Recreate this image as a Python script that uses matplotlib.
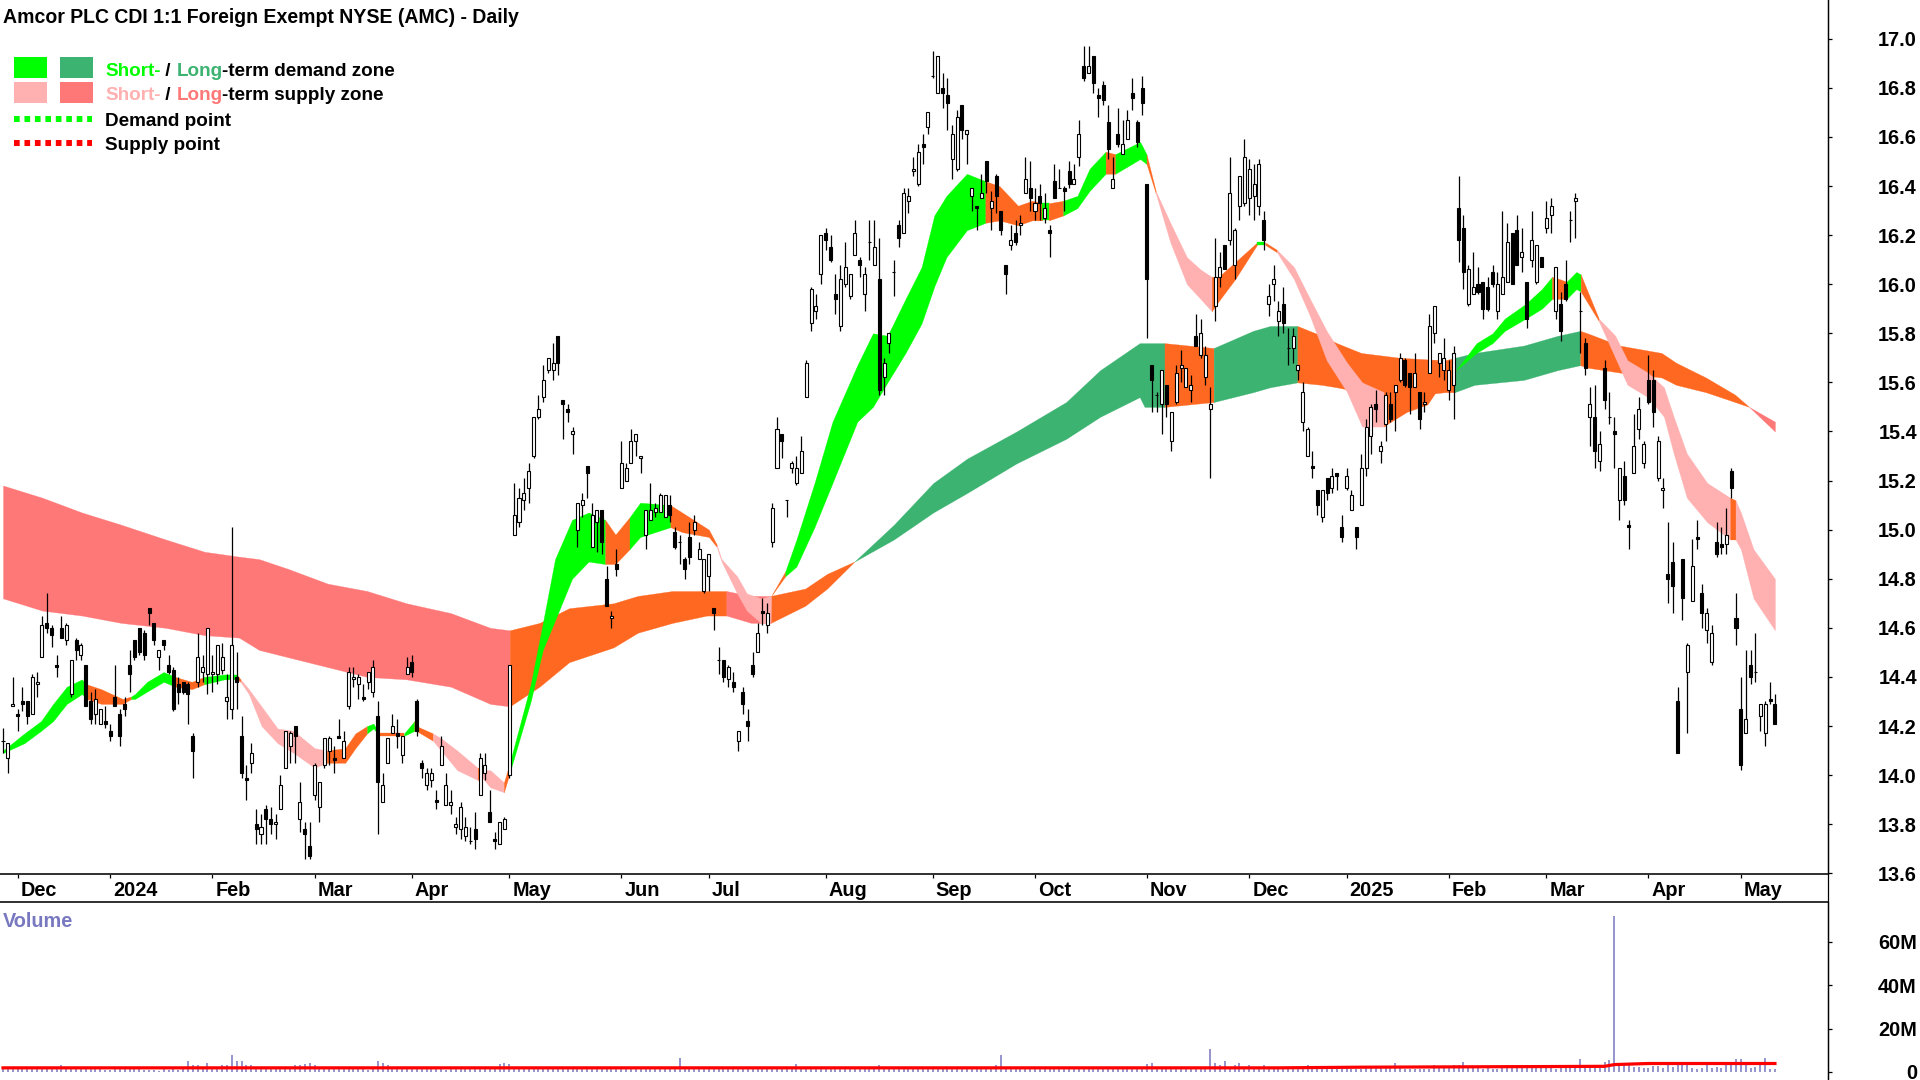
import matplotlib
matplotlib.use('Agg')
import matplotlib.pyplot as plt
from matplotlib.patches import Rectangle
from matplotlib.transforms import ScaledTranslation

plt.rcParams['font.family'] = ['Liberation Sans', 'DejaVu Sans']
plt.rcParams['font.weight'] = 'bold'

# Daily candles, Dec 2023 to May 2025
highs = [
    14.19,14.13,14.40,14.27,14.36,14.30,14.41,14.42,14.65,14.74,
    14.61,14.49,14.65,14.62,14.47,14.56,14.54,14.45,14.34,14.35,
    14.27,14.28,14.21,14.45,14.27,14.32,14.51,14.55,14.60,14.59,
    14.68,14.62,14.51,14.55,14.49,14.44,14.40,14.38,14.38,14.17,
    14.58,14.49,14.60,14.49,14.53,14.54,14.41,15.01,14.50,14.24,
    14.04,14.13,13.86,13.84,13.88,13.87,13.84,14.00,14.18,14.18,
    14.20,13.97,13.81,13.81,14.05,13.97,14.15,14.16,14.12,14.23,
    14.18,14.44,14.44,14.41,14.37,14.42,14.47,14.30,14.01,14.15,
    14.25,14.23,14.16,14.48,14.49,14.31,14.06,14.03,14.03,13.94,
    14.16,14.01,13.94,13.83,13.89,13.83,13.79,13.85,14.09,14.09,
    13.94,13.77,13.81,13.83,14.45,15.19,15.17,15.21,15.27,15.46,
    15.55,15.67,15.70,15.76,15.79,15.53,15.51,15.42,15.11,15.15,
    15.26,15.11,15.08,15.08,14.85,14.67,14.92,15.36,15.27,15.41,
    15.39,15.30,15.08,15.19,15.11,15.15,15.14,15.14,15.01,14.98,
    14.89,15.03,15.06,14.95,14.88,14.90,14.68,14.52,14.47,14.45,
    14.42,14.18,14.36,14.27,14.50,14.62,14.72,14.70,15.11,15.46,
    15.39,15.12,15.28,15.30,15.38,15.69,15.99,15.96,16.20,16.23,
    16.20,16.04,16.08,16.17,16.04,16.26,16.11,16.07,16.26,16.26,
    16.19,15.70,15.80,16.10,16.26,16.39,16.39,16.52,16.57,16.61,
    16.70,16.95,16.93,16.86,16.84,16.65,16.71,16.73,16.63,16.39,
    16.32,16.45,16.50,16.38,16.45,16.30,16.08,16.24,16.26,16.28,
    16.52,16.50,16.39,16.41,16.37,16.24,16.49,16.47,16.40,16.50,
    16.49,16.67,16.97,16.97,16.93,16.80,16.83,16.73,16.52,16.72,
    16.67,16.71,16.84,16.67,16.85,16.41,15.67,15.56,15.65,15.59,
    15.48,15.67,15.73,15.66,15.63,15.88,15.86,15.75,15.58,16.19,
    16.13,16.16,16.52,16.23,16.44,16.59,16.51,16.49,16.51,16.30,
    16.00,16.08,15.93,15.99,15.82,15.82,15.67,15.60,15.42,15.32,
    15.16,15.16,15.21,15.25,15.23,15.06,15.25,15.16,15.01,15.31,
    15.45,15.51,15.57,15.36,15.56,15.56,15.59,15.72,15.70,15.64,
    15.72,15.56,15.56,15.88,15.91,15.72,15.78,15.69,15.75,16.44,
    16.28,16.08,16.13,16.07,16.01,16.03,16.08,16.05,16.30,16.25,
    16.21,16.28,16.23,16.01,16.30,16.16,16.11,16.34,16.35,16.07,
    15.97,16.10,16.30,16.37,15.97,15.78,15.58,15.59,15.40,15.69,
    15.56,15.46,15.25,15.28,15.04,15.47,15.54,15.36,15.71,15.65,
    15.38,15.21,15.03,14.95,14.36,14.88,14.54,14.96,15.04,14.78,
    14.68,14.61,15.03,15.01,15.09,15.25,14.74,14.40,14.51,14.51,
    14.58,14.29,14.30,14.38,14.33]
body_tops = [
    14.14,14.13,14.29,14.25,14.30,14.30,14.40,14.38,14.61,14.62,
    14.60,14.45,14.60,14.61,14.47,14.55,14.53,14.45,14.30,14.31,
    14.27,14.22,14.18,14.32,14.25,14.29,14.45,14.55,14.60,14.58,
    14.68,14.62,14.51,14.55,14.45,14.43,14.37,14.38,14.37,14.16,
    14.48,14.44,14.60,14.42,14.53,14.48,14.32,14.53,14.40,14.16,
    13.99,14.09,13.80,13.79,13.86,13.82,13.81,13.96,14.18,14.17,
    14.20,13.89,13.78,13.71,14.04,13.97,14.15,14.15,14.07,14.16,
    14.14,14.42,14.40,14.40,14.32,14.42,14.44,14.24,13.96,14.15,
    14.20,14.17,14.16,14.44,14.46,14.30,14.05,14.01,14.01,13.90,
    14.12,13.96,13.89,13.80,13.87,13.79,13.73,13.78,14.07,14.04,
    13.85,13.74,13.81,13.82,14.45,15.06,15.13,15.15,15.24,15.46,
    15.49,15.61,15.70,15.68,15.79,15.53,15.49,15.40,15.11,15.12,
    15.26,15.06,15.08,15.08,14.80,14.65,14.86,15.27,15.25,15.36,
    15.39,15.30,15.08,15.08,15.09,15.14,15.14,15.10,14.99,14.95,
    14.88,14.97,15.03,14.92,14.88,14.90,14.68,14.47,14.47,14.44,
    14.38,14.18,14.34,14.22,14.45,14.58,14.67,14.66,15.09,15.41,
    15.39,15.12,15.27,15.25,15.32,15.68,15.98,15.91,16.20,16.21,
    16.15,15.96,16.02,16.07,16.04,16.21,16.10,16.04,16.17,16.15,
    16.02,15.68,15.80,16.05,16.24,16.37,16.36,16.47,16.54,16.57,
    16.70,16.85,16.93,16.80,16.77,16.61,16.68,16.73,16.63,16.39,
    16.32,16.37,16.50,16.34,16.44,16.30,16.08,16.18,16.21,16.25,
    16.43,16.39,16.33,16.36,16.31,16.22,16.42,16.39,16.39,16.46,
    16.43,16.61,16.89,16.89,16.93,16.77,16.81,16.66,16.43,16.61,
    16.57,16.67,16.78,16.66,16.80,16.41,15.67,15.55,15.65,15.59,
    15.48,15.64,15.67,15.66,15.59,15.79,15.80,15.71,15.51,16.03,
    16.07,16.16,16.37,16.22,16.44,16.52,16.47,16.41,16.49,16.26,
    15.95,16.02,15.89,15.92,15.74,15.79,15.67,15.56,15.41,15.26,
    15.16,15.16,15.21,15.22,15.23,15.01,15.22,15.14,15.01,15.25,
    15.42,15.50,15.51,15.34,15.55,15.51,15.59,15.70,15.69,15.64,
    15.64,15.56,15.52,15.83,15.91,15.72,15.70,15.65,15.72,16.31,
    16.23,16.06,15.99,16.00,16.01,15.99,16.05,16.00,16.03,16.17,
    16.21,16.22,16.13,16.01,16.18,16.16,16.11,16.27,16.32,16.07,
    15.92,16.00,16.26,16.35,15.89,15.76,15.51,15.46,15.35,15.66,
    15.46,15.40,15.25,15.22,15.02,15.34,15.49,15.35,15.61,15.61,
    15.36,15.17,14.82,14.87,14.30,14.88,14.53,14.85,14.97,14.74,
    14.66,14.58,14.95,14.94,14.98,15.24,14.64,14.27,14.23,14.45,
    14.42,14.29,14.29,14.31,14.29]
body_bots = [
    14.14,14.07,14.28,14.24,14.29,14.24,14.25,14.37,14.48,14.60,
    14.57,14.44,14.56,14.55,14.33,14.51,14.49,14.28,14.23,14.25,
    14.21,14.21,14.16,14.28,14.16,14.27,14.41,14.48,14.50,14.49,
    14.66,14.55,14.48,14.53,14.42,14.27,14.34,14.34,14.33,14.10,
    14.38,14.42,14.41,14.41,14.41,14.43,14.30,14.27,14.38,14.01,
    13.98,14.05,13.78,13.76,13.82,13.80,13.80,13.86,14.03,14.12,
    14.16,13.82,13.76,13.67,13.92,13.87,14.04,14.10,14.06,14.15,
    14.07,14.28,14.39,14.37,14.31,14.38,14.34,13.97,13.89,14.05,
    14.17,14.16,14.08,14.41,14.42,14.18,14.03,13.96,13.98,13.89,
    14.04,13.88,13.88,13.79,13.78,13.75,13.73,13.74,13.92,14.01,
    13.81,13.73,13.72,13.78,14.00,14.98,15.03,15.12,15.17,15.30,
    15.46,15.54,15.65,15.65,15.68,15.51,15.48,15.39,15.00,15.10,
    15.23,14.93,15.03,14.95,14.69,14.64,14.84,15.17,15.20,15.27,
    15.36,15.29,14.98,15.04,15.07,15.07,15.05,15.06,14.93,14.95,
    14.84,14.89,15.00,14.88,14.75,14.81,14.66,14.47,14.40,14.39,
    14.36,14.14,14.29,14.20,14.41,14.50,14.66,14.61,14.95,15.25,
    15.36,15.12,15.25,15.19,15.23,15.54,15.84,15.89,16.04,16.18,
    16.10,15.94,15.83,16.00,15.95,16.12,16.08,15.96,16.17,16.08,
    15.57,15.62,15.76,16.05,16.19,16.21,16.34,16.46,16.41,16.56,
    16.64,16.85,16.78,16.78,16.74,16.51,16.47,16.63,16.61,16.36,
    16.31,16.35,16.42,16.31,16.36,16.22,16.04,16.16,16.17,16.24,
    16.37,16.35,16.30,16.33,16.27,16.21,16.35,16.39,16.38,16.41,
    16.41,16.52,16.84,16.86,16.82,16.76,16.75,16.55,16.39,16.57,
    16.53,16.59,16.76,16.58,16.74,16.02,15.61,15.55,15.51,15.51,
    15.36,15.52,15.66,15.58,15.57,15.75,15.71,15.62,15.49,15.91,
    16.03,16.06,16.18,16.08,16.32,16.33,16.35,16.36,16.32,16.18,
    15.92,16.00,15.85,15.84,15.74,15.74,15.65,15.44,15.30,15.25,
    15.10,15.05,15.15,15.17,15.22,14.97,15.17,15.08,14.97,15.10,
    15.25,15.38,15.49,15.32,15.43,15.45,15.56,15.61,15.59,15.58,
    15.58,15.45,15.51,15.64,15.80,15.68,15.65,15.57,15.59,16.18,
    16.05,15.92,15.96,15.97,15.90,15.90,16.00,15.89,15.96,16.01,
    16.00,16.08,16.11,15.86,16.10,16.01,16.07,16.23,16.28,15.89,
    15.81,15.94,16.26,16.34,15.89,15.66,15.46,15.32,15.28,15.53,
    15.46,15.39,15.12,15.12,15.01,15.23,15.41,15.27,15.52,15.48,
    15.21,15.16,14.80,14.77,14.09,14.72,14.42,14.71,14.96,14.66,
    14.59,14.46,14.90,14.93,14.94,15.17,14.60,14.04,14.17,14.40,
    14.42,14.24,14.17,14.30,14.21]
lows = [
    14.09,14.01,14.28,14.18,14.26,14.21,14.25,14.32,14.48,14.58,
    14.52,14.40,14.56,14.53,14.32,14.47,14.47,14.28,14.21,14.21,
    14.21,14.19,14.14,14.28,14.12,14.24,14.34,14.47,14.49,14.47,
    14.61,14.53,14.43,14.51,14.41,14.26,14.29,14.33,14.21,13.99,
    14.36,14.38,14.33,14.34,14.37,14.41,14.23,14.23,14.27,13.99,
    13.90,14.01,13.72,13.72,13.72,13.76,13.74,13.86,14.03,14.05,
    14.05,13.77,13.66,13.66,13.90,13.81,14.03,14.04,14.01,14.15,
    14.07,14.27,14.36,14.31,14.30,14.35,14.32,13.76,13.89,14.05,
    14.17,14.11,14.05,14.41,14.40,14.16,13.99,13.94,13.95,13.86,
    14.04,13.88,13.84,13.76,13.74,13.73,13.72,13.70,13.92,13.98,
    13.81,13.70,13.72,13.78,13.99,14.98,15.01,15.08,15.11,15.29,
    15.45,15.52,15.64,15.61,15.63,15.37,15.44,15.31,14.93,15.05,
    15.13,14.93,14.91,14.90,14.69,14.60,14.81,15.17,15.20,15.27,
    15.30,15.23,14.92,15.04,15.05,15.07,15.05,15.03,14.92,14.86,
    14.80,14.86,14.98,14.88,14.74,14.75,14.59,14.41,14.38,14.36,
    14.34,14.10,14.25,14.14,14.40,14.50,14.61,14.58,14.93,15.25,
    15.29,15.05,15.23,15.18,15.23,15.54,15.81,15.86,16.00,16.14,
    16.09,15.88,15.81,15.99,15.94,16.12,16.03,15.89,16.10,16.08,
    15.55,15.55,15.72,15.95,16.15,16.21,16.29,16.44,16.40,16.49,
    16.61,16.84,16.78,16.72,16.63,16.43,16.46,16.59,16.49,16.30,
    16.22,16.35,16.37,16.22,16.29,16.20,15.96,16.14,16.16,16.20,
    16.37,16.30,16.26,16.26,16.25,16.11,16.35,16.39,16.30,16.39,
    16.41,16.48,16.83,16.86,16.78,16.68,16.73,16.51,16.39,16.56,
    16.53,16.59,16.71,16.56,16.69,15.78,15.48,15.48,15.39,15.46,
    15.32,15.51,15.60,15.58,15.52,15.75,15.70,15.59,15.21,15.85,
    15.99,16.06,16.16,16.02,16.26,16.32,16.28,16.26,16.28,16.14,
    15.87,15.93,15.79,15.80,15.67,15.68,15.61,15.40,15.30,15.21,
    15.06,15.03,15.12,15.15,15.16,14.95,15.16,15.08,14.92,15.10,
    15.22,15.31,15.44,15.27,15.36,15.44,15.40,15.60,15.58,15.47,
    15.58,15.41,15.48,15.64,15.76,15.62,15.61,15.53,15.45,16.09,
    15.98,15.91,15.96,15.96,15.86,15.89,15.99,15.86,15.96,16.01,
    16.00,16.08,16.05,15.82,16.07,16.00,16.07,16.21,16.21,15.86,
    15.77,15.93,16.17,16.19,15.72,15.63,15.34,15.25,15.24,15.49,
    15.43,15.25,15.04,15.10,14.92,15.23,15.37,15.25,15.51,15.42,
    15.20,15.09,14.70,14.66,14.09,14.63,14.17,14.71,14.92,14.60,
    14.54,14.45,14.89,14.90,14.90,15.13,14.53,14.02,14.17,14.37,
    14.38,14.18,14.12,14.29,14.21]
# 1 = white candle (close above open), 0 = black
candle_up = (
    "0110001110" "0001101001" "1000000000" "0010000000" "1111111100"
    "0101001111" "0100111100" "1111011011" "1011000110" "1111110011"
    "0011111111" "1111000111" "0110010111" "1111111000" "0011110001"
    "0100010111" "0011111110" "0011110101" "0110011110" "1010011011"
    "0101000101" "1010100000" "1101000010" "1100000010" "1111101111"
    "1011111110" "1110011110" "0101001101" "1101101100" "1011111110"
    "0110000111" "0010110111" "0001001010" "0010011100" "1100001100"
    "1100100010" "01100")

# Volume in millions per bar
volumes = [
    1.5,1.5,1.5,1.5,1.5,1.5,1.5,1.4,1.4,1.5,
    1.6,2,3,2,1.8,1.5,1.5,2,2.2,1.4,
    1.2,1,0.8,1.2,2,1.2,1.4,1.5,1.3,1,
    1,1,0.6,1.5,0.9,1.2,1,1.4,5,3,
    3,2,4,2,2,3,3,8,5,5,
    3,3,2,2.5,2,2,2,1.5,2.5,2.5,
    3,3,3.5,4,3,2.5,2,2,2,1.5,
    1.6,1.4,2,1.5,1.4,1,1.2,5,4,3,
    2,2,2,2,1.8,1.6,1.8,1.4,2,2,
    1.6,1,1.2,2.5,1.2,1.3,1.2,1.5,1.4,1.3,
    2,1.5,3.5,4,3.5,2,1.3,1.5,1.2,1.2,
    1.4,1.8,1.4,1.6,1.4,1.2,1.6,1.4,1.2,1.4,
    1.3,2.5,1.4,1.2,1.4,1.2,1.6,1.4,1.4,1.3,
    1.3,1.5,1.2,1.4,1.6,1.4,1.2,1.5,1.8,6.5,
    2.5,2,1.6,1.5,1.8,1.4,1.5,2,1.6,1.4,
    1.5,1.3,1.6,1.4,1.3,1.5,1.4,1.6,2,2.5,
    1.8,1.6,1.8,3.5,2,1.8,1.6,2,1.8,1.5,
    1.6,1.8,1.5,1.6,1.4,1.8,1.6,1.5,1.4,1.6,
    3,1.8,1.5,1.6,1.4,1.5,1.6,1.8,1.5,1.6,
    1.4,1.6,1.5,1.4,1.8,1.6,1.5,1.4,1.6,1.5,
    1.6,2,1.8,2.5,3,8,2,1.6,1.5,1.4,
    1.6,1.8,1.5,1.4,1.6,1.5,1.4,1.6,1.5,1.8,
    2,1.6,1.8,1.5,1.6,1.8,1.5,1.4,1.6,1.8,
    1.8,1.5,1.6,1.5,1.8,3.5,4,2,1.6,1.8,
    1.5,1.6,1.8,2,1.6,1.5,1.6,2,10.5,4,
    3,5,2.5,3,4,2.5,3,2,2.5,3,
    2,1.8,1.6,2,1.5,1.6,1.8,2.5,3,2,
    1.6,1.2,1.5,1.3,1.2,1.4,1.6,1.2,1.4,1.5,
    1.6,2,1.8,2.5,2,1.8,4.2,2,1.2,1.5,
    1.4,1.5,1.3,1.2,3.3,2,2,2,3.2,3.4,
    4.6,2,1.6,1.8,1.5,1.6,1.4,1.5,2,3,
    2.5,2,1.8,3,2,2,3,2,1.6,1.4,
    2.5,3,2,2,6,2,3,3.4,2,4.6,
    5.6,72,3.4,3.4,3.2,2.5,2.3,2,2,2.6,
    2.6,2,3.7,2.5,4,4,3.5,2,1.5,1.8,
    3.2,2,2.5,2,3.2,3,6,6,4,2,
    2.2,3,6.5,1.5,1.5]
vol_avg_bar = [0, 100, 200, 262, 279, 304, 318, 329, 331, 338, 364]
vol_avg = [1.9, 1.9, 1.9, 1.9, 2.2, 2.4, 2.5, 2.6, 3.4, 3.9, 3.9]

# Long-term zone, sampled along the bars; kind applies to the stretch after each sample
long_bar = [0,8.1,16.2,24.3,33.4,41.4,48.5,52.6,58.6,66.7,74.8,82.9,92,100.1,104.1,
            110.2,116.3,125.4,130.4,137.5,144.6,148.6,153.7,157.7,164.8,169.3,174.9,
            183,191.1,198.1,208.2,218.4,225.4,233.5,234.5,238.6,248.7,256.8,260.3,265.9,
            270.9,274,279,287.1,296.2,298.2,302.3,312.4,319.4,324,
            325.5,332.1,340.7,343.7,349.8,355.8,358.7,364]
long_top = [15.18,15.13,15.07,15.02,14.96,14.91,14.89,14.88,14.84,14.78,14.75,14.70,14.66,14.60,14.59,
            14.62,14.68,14.70,14.73,14.75,14.75,14.75,14.73,14.73,14.76,14.82,14.87,
            15.02,15.19,15.29,15.40,15.52,15.65,15.76,15.76,15.76,15.74,15.81,15.83,15.83,
            15.79,15.76,15.72,15.70,15.69,15.70,15.72,15.75,15.79,15.81,
            15.80,15.75,15.72,15.68,15.62,15.55,15.50,15.44]
long_bot = [14.72,14.67,14.65,14.62,14.60,14.57,14.56,14.51,14.48,14.44,14.40,14.39,14.36,14.29,14.28,
            14.36,14.46,14.52,14.58,14.62,14.65,14.65,14.62,14.62,14.69,14.76,14.87,
            14.96,15.07,15.15,15.27,15.37,15.46,15.54,15.50,15.50,15.52,15.56,15.58,15.60,
            15.59,15.58,15.56,15.54,15.56,15.56,15.59,15.61,15.65,15.67,
            15.66,15.64,15.62,15.59,15.56,15.52,15.50,15.40]
long_kind = ("RRRRRRRRRRRRRR" "OOOOOOO" "RR" "OOO" "DDDDDDDDD" "O" "DDD" "OOOOOO"
             "DDDD" "OOOOOOO" "RR")

# Short-term zone
short_bar = [0,4.4,7.8,10.3,13.1,16.2,17.2,20.2,24.6,26.3,27.1,29.6,33,35.4,38.8,41.3,45.5,48,48.8,
             50.5,53.1,56.4,59.7,64,66.5,70.3,72.4,74.8,76.1,77.3,82.4,84.5,84.9,88.3,90,93.3,
             97.5,98.4,100.1,102.9,104.1,108.4,110.9,113.4,116.9,120.3,123.7,125.8,128.7,130.9,
             137.1,139.5,145,146.6,147.6,150.8,152.8,155.7,157.7,157.8,160.7,163,166.7,170.4,175.5,
             178.7,181.7,185.4,188.7,191.3,193.8,198,201.8,204.7,208.5,211.4,213.5,214.8,217.8,
             220.7,223.2,226.5,228.5,233.6,234.9,236.8,239.8,243.2,246,248.3,249.7,253.1,257.6,
             259.3,261.7,265.2,268.5,271.9,276.1,279.2,283.7,284.3,288.4,292.6,294.3,296.2,298.5,
             302.7,306,308.5,312.8,316.1,318.2,319.9,321.2,323.2,324.1,327.8,331.2,333.7,337.9,
             341.2,343.2,345.9,350.1,354.8,355.9,357,359.6,364]
short_top = [14.10,14.17,14.22,14.29,14.36,14.39,14.37,14.35,14.31,14.32,14.33,14.38,14.42,14.40,14.38,14.40,14.41,14.41,14.39,
             14.35,14.28,14.19,14.18,14.11,14.10,14.11,14.17,14.20,14.21,14.17,14.17,14.22,14.20,14.17,14.15,14.10,
             14.03,14.02,14.02,13.97,14.05,14.37,14.62,14.88,15.04,15.07,15.04,14.98,15.05,15.11,
             15.10,15.07,15.00,14.94,14.88,14.81,14.74,14.72,14.73,14.73,14.83,14.96,15.19,15.44,15.67,
             15.80,15.79,15.94,16.07,16.28,16.36,16.45,16.42,16.40,16.32,16.34,16.33,16.33,16.34,
             16.36,16.47,16.54,16.53,16.58,16.53,16.38,16.25,16.11,16.06,16.03,16.03,16.09,16.17,
             16.17,16.14,16.07,15.94,15.81,15.68,15.60,15.56,15.56,15.56,15.57,15.57,15.60,15.65,
             15.76,15.80,15.86,15.92,15.98,16.03,16.02,16.01,16.05,16.04,15.86,15.79,15.69,15.64,
             15.58,15.46,15.31,15.19,15.13,15.12,15.07,14.92,14.80]
short_bot = [14.09,14.13,14.18,14.22,14.29,14.33,14.31,14.29,14.29,14.31,14.31,14.34,14.38,14.36,14.35,14.37,14.39,14.39,14.38,
             14.33,14.20,14.13,14.09,14.03,14.05,14.05,14.11,14.17,14.19,14.16,14.16,14.18,14.18,14.14,14.10,14.02,
             13.98,13.99,13.95,13.93,14.01,14.30,14.51,14.63,14.80,14.87,14.86,14.86,14.92,14.97,
             15.01,14.99,14.97,14.93,14.87,14.74,14.67,14.62,14.62,14.73,14.81,14.85,15.01,15.19,15.44,
             15.50,15.60,15.72,15.84,15.99,16.11,16.22,16.25,16.26,16.24,16.26,16.26,16.26,16.28,
             16.31,16.38,16.45,16.45,16.51,16.49,16.37,16.17,16.00,15.94,15.89,15.93,16.02,16.16,
             16.16,16.13,16.02,15.87,15.69,15.56,15.42,15.42,15.43,15.48,15.51,15.56,15.58,15.65,
             15.72,15.76,15.81,15.86,15.90,15.94,15.94,15.94,15.98,15.97,15.85,15.70,15.59,15.54,
             15.46,15.31,15.13,15.03,14.96,14.96,14.92,14.72,14.59]
short_kind = ("GGGGGG" "OOO" "GGGG" "OO" "GG" "O" "PPPPPP" "OOO" "GG" "O" "G" "OO" "PPP" "O" "PP" "O"
              "GGGGGG" "OO" "GG" "OOO" "PPPPPP" "O" "GGGGGGGGGGGG" "OOOO" "G" "O" "GGG" "O" "GG" "O"
              "PPPP" "OOO" "G" "O" "PPPPPP" "OOOOOO" "GGGGGG" "OO" "GG" "O" "PPPPPPPP" "O" "PPPP")
zone_colors = {'G': '#00FF00', 'D': '#3CB371', 'P': '#FFB0B0', 'R': '#FF7878', 'O': '#FF6820'}

price_ticks = [13.6, 13.8, 14.0, 14.2, 14.4, 14.6, 14.8, 15.0, 15.2, 15.4,
               15.6, 15.8, 16.0, 16.2, 16.4, 16.6, 16.8, 17.0]
vol_ticks = [0, 20, 40, 60]
vol_tick_labels = ['0', '20M', '40M', '60M']
month_bars = [3, 22, 43, 64, 84, 104, 127, 145, 169, 191, 212, 235, 256, 276, 297, 317, 338, 357]
month_labels = ['Dec', '2024', 'Feb', 'Mar', 'Apr', 'May', 'Jun', 'Jul', 'Aug', 'Sep', 'Oct',
                'Nov', 'Dec', '2025', 'Feb', 'Mar', 'Apr', 'May']

W, H = 1920, 1080
RIGHT = 1828
PRICE_BOTTOM = 874
VOL_TOP = 902
XLIM = (-0.616, 374.9)
TEXT = '#000000'
VOL_COLOR = '#7878C0'
FS = 14.3


def fill_zone(ax, xs, tops, bots, kinds):
    # One polygon per run of the same kind, so no seams show inside a run
    start = 0
    for k in range(1, len(xs)):
        if k == len(xs) - 1 or kinds[k] != kinds[start]:
            ax.fill_between(xs[start:k + 1], tops[start:k + 1], bots[start:k + 1],
                            color=zone_colors[kinds[start]], linewidth=0.2, zorder=2)
            start = k


def color_text(ov, renderer, x, y, parts):
    for text, col in parts:
        t = ov.text(x, y, text, color=col, fontsize=13.55, va='center', ha='left')
        x += t.get_window_extent(renderer).width


fig = plt.figure(figsize=(W / 100, H / 100), dpi=100)
ax = fig.add_axes([0, (H - PRICE_BOTTOM) / H, RIGHT / W, PRICE_BOTTOM / H])
vol = fig.add_axes([0, 0, RIGHT / W, (H - VOL_TOP) / H])

# Price panel
fill_zone(ax, long_bar, long_top, long_bot, long_kind)
fill_zone(ax, short_bar, short_top, short_bot, short_kind)
bars = list(range(len(highs)))
ax.vlines(bars, lows, highs, color='black', linewidth=0.9, zorder=3)
up = [c == '1' for c in candle_up]
ax.bar(bars, [t - b for t, b in zip(body_tops, body_bots)], bottom=body_bots, width=0.62,
       color=['white' if u else 'black' for u in up], edgecolor='black', linewidth=0.8, zorder=4)
ax.set_xlim(*XLIM)
ax.set_ylim(13.597, 17.158)
ax.yaxis.tick_right()
ax.set_yticks(price_ticks)
ax.set_yticklabels(['%.1f' % p for p in price_ticks], fontsize=FS, ha='right')
ax.tick_params(axis='y', length=3, width=0.9, pad=61)
ax.set_xticks(month_bars)
ax.set_xticklabels(month_labels, fontsize=FS, ha='left')
ax.tick_params(axis='x', length=3, width=0.9, pad=2)
shift = ScaledTranslation(3 / 100, 0, fig.dpi_scale_trans)
for lab in ax.get_xticklabels():
    lab.set_transform(lab.get_transform() + shift)
ax.spines['top'].set_visible(False)
ax.spines['left'].set_visible(False)
ax.spines['right'].set_linewidth(0.9)
ax.spines['bottom'].set_linewidth(1.4)
ax.spines['bottom'].set_color('#303030')

# Volume panel
vol.vlines(bars, 0, volumes, color=VOL_COLOR, linewidth=1.1, zorder=2)
vol.plot(vol_avg_bar, vol_avg, color='red', linewidth=2.3, zorder=3, solid_joinstyle='miter')
vol.set_xlim(*XLIM)
vol.set_ylim(-3.7, 78.3)
vol.set_xticks([])
vol.yaxis.tick_right()
vol.set_yticks(vol_ticks)
vol.set_yticklabels(vol_tick_labels, fontsize=FS, ha='right')
vol.tick_params(axis='y', length=3, width=0.9, pad=61)
vol.spines['left'].set_visible(False)
vol.spines['bottom'].set_visible(False)
vol.spines['right'].set_linewidth(0.9)
vol.spines['top'].set_linewidth(1.4)
vol.spines['top'].set_color('#303030')

# Overlay in pixel units for title and legend
ov = fig.add_axes([0, 0, 1, 1], facecolor='none')
ov.set_xlim(0, W)
ov.set_ylim(H, 0)
ov.axis('off')
ov.plot([RIGHT, RIGHT], [0, H], color='black', linewidth=0.9)
ov.text(3, 17.5, 'Amcor PLC CDI 1:1 Foreign Exempt NYSE (AMC) - Daily', fontsize=14.05, va='center', ha='left', color=TEXT)
ov.text(3, 921.5, 'Volume', fontsize=FS, va='center', ha='left', color=VOL_COLOR)
for x0, y0, c in [(14, 57, zone_colors['G']), (60, 57, zone_colors['D']),
                  (14, 82, zone_colors['P']), (60, 82, zone_colors['R'])]:
    ov.add_patch(Rectangle((x0, y0), 33, 21, color=c, linewidth=0))
ov.plot([14, 92], [119, 119], color='#00FF00', linewidth=4.3, linestyle=(0, (0.95, 0.8)))
ov.plot([14, 92], [143, 143], color='#FF0000', linewidth=4.3, linestyle=(0, (0.95, 0.8)))
renderer = fig.canvas.get_renderer()
color_text(ov, renderer, 105, 71, [('Short-', '#00FF00'), (' / ', TEXT), ('Long', '#3CB371'), ('-term demand zone', TEXT)])
color_text(ov, renderer, 105, 96, [('Short-', '#FFB0B0'), (' / ', TEXT), ('Long', '#FF7878'), ('-term supply zone', TEXT)])
color_text(ov, renderer, 105, 122, [('Demand point', TEXT)])
color_text(ov, renderer, 105, 146, [('Supply point', TEXT)])

fig.savefig('out.png', dpi=100)
